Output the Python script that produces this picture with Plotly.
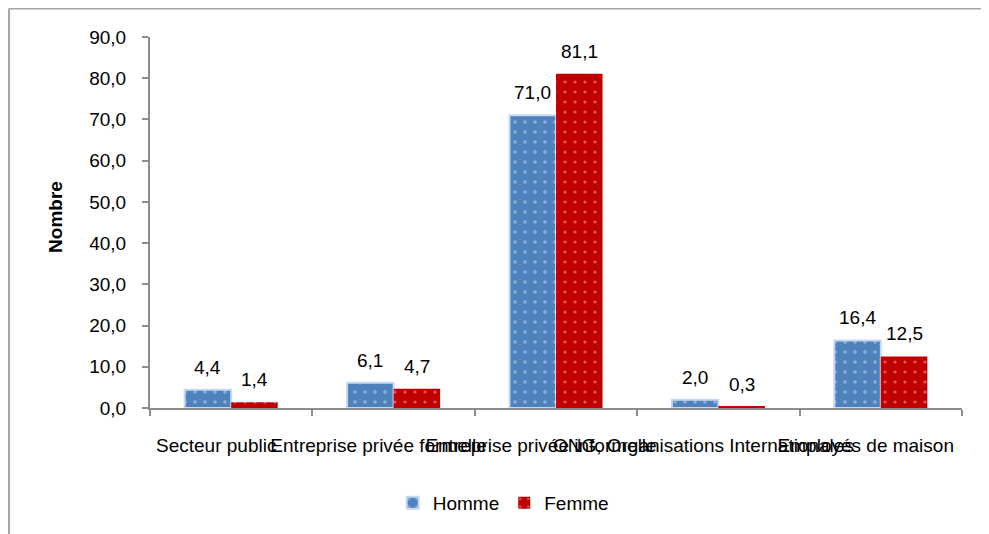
import plotly.graph_objects as go

# Données
categories = [
    "Secteur public",
    "Entreprise privée formelle",
    "Entreprise privée informelle",
    "ONG, Organisations Internationales",
    "Employés de maison",
]
homme = [4.4, 6.1, 71.0, 2.0, 16.4]
femme = [1.4, 4.7, 81.1, 0.3, 12.5]
y_ticks = [0, 10, 20, 30, 40, 50, 60, 70, 80, 90]

FONT = "Arial, Liberation Sans, sans-serif"
GREY = "#8c8c8c"
FS = 19

fig = go.Figure()

fig.add_trace(go.Bar(
    x=categories, y=homme, name="Homme",
    marker=dict(
        color="#4f81bd",
        line=dict(color="#c6d9f1", width=2),
        pattern=dict(shape=".", fgcolor="#c9def5", size=10, solidity=0.1),
    ),
))
fig.add_trace(go.Bar(
    x=categories, y=femme, name="Femme",
    marker=dict(
        color="#c00000",
        line=dict(color="#c00000", width=0),
        pattern=dict(shape=".", fgcolor="#ffb0b0", size=10, solidity=0.08),
    ),
))

# étiquettes de données
annotations = []
for vals, shift in [(homme, -23.5), (femme, 23.5)]:
    for cat, v in zip(categories, vals):
        annotations.append(dict(
            x=cat, y=v, xref="x", yref="y",
            text=f"{v:.1f}".replace(".", ","),
            showarrow=False, xshift=shift, yshift=10, yanchor="bottom",
            font=dict(family=FONT, size=FS, color="black"),
        ))

# titre de l'axe Y
annotations.append(dict(
    x=-0.1158, y=0.515, xref="paper", yref="paper",
    text="<b>Nombre</b>", textangle=-90, showarrow=False,
    xanchor="center", yanchor="middle",
    font=dict(family=FONT, size=FS, color="black"),
))

# cadre (seuls les bords gauche et haut sont visibles)
frame = dict(color="#a6a6a6", width=2)
shapes = [
    dict(type="line", xref="paper", yref="paper",
         x0=-0.1736, x1=-0.1736, y0=-0.4, y1=1.077, line=frame),
    dict(type="line", xref="paper", yref="paper",
         x0=-0.1736, x1=1.1, y0=1.077, y1=1.077, line=frame),
]

fig.update_layout(
    width=981, height=526,
    paper_bgcolor="white", plot_bgcolor="white",
    margin=dict(l=142, r=27, t=29, b=126, autoexpand=False),
    separators=", ",
    barmode="group", bargap=0.427, bargroupgap=0,
    font=dict(family=FONT, size=FS, color="black"),
    showlegend=True,
    legend=dict(
        orientation="h", x=0.435, y=-0.256, xanchor="center", yanchor="middle",
        font=dict(family=FONT, size=FS, color="black"),
        itemwidth=30, tracegroupgap=0,
    ),
    annotations=annotations,
    shapes=shapes,
)

fig.update_xaxes(
    type="category", showgrid=False, zeroline=False,
    showline=True, linecolor=GREY, linewidth=2,
    ticks="outside", tickson="boundaries", ticklen=6, tickcolor=GREY, tickwidth=1.5,
    tickangle=0, ticklabelstandoff=19, ticklabelshift=-15,
    tickfont=dict(family=FONT, size=FS, color="black"),
)
fig.update_yaxes(
    range=[0, 90], tickvals=y_ticks, tickformat=".1f",
    showgrid=False, zeroline=False,
    showline=True, linecolor=GREY, linewidth=2,
    ticks="outside", ticklen=6, tickcolor=GREY, tickwidth=1.5,
    ticklabelstandoff=12,
    tickfont=dict(family=FONT, size=FS, color="black"),
)

fig.write_html("out.html")
